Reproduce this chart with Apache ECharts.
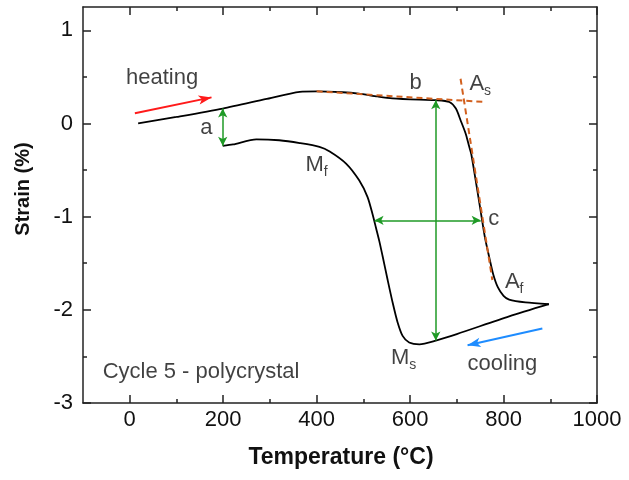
<!DOCTYPE html>
<html><head><meta charset="utf-8">
<script src="https://cdn.jsdelivr.net/npm/echarts@6/dist/echarts.min.js"></script>
<style>html,body{margin:0;padding:0;background:#fff}#c{width:629px;height:480px}</style>
</head><body><div id="c"></div>
<script>
// ---- data ----
const heatingT = [18,100,199,290,364,400,455,490,530,562,620,656,684,698,708,719,726,731,740,751,760,770,778,788,800,812,847,897];
const heatingS = [0,0.07,0.16,0.26,0.34,0.345,0.335,0.32,0.29,0.27,0.255,0.25,0.23,0.16,0.035,-0.11,-0.24,-0.33,-0.6,-0.94,-1.22,-1.45,-1.62,-1.76,-1.85,-1.89,-1.92,-1.94];
const coolingT = [897,812,700,655,620,598,584,573,563,552,541,534,527,520,509,491,463,428,406,364,320,271,221,199];
const coolingS = [-1.94,-2.07,-2.26,-2.33,-2.37,-2.35,-2.28,-2.13,-1.93,-1.68,-1.42,-1.26,-1.12,-0.98,-0.79,-0.61,-0.43,-0.30,-0.25,-0.21,-0.18,-0.17,-0.225,-0.24];
const plateauTangentT = [400,761];
const plateauTangentS = [0.345,0.23];
const steepTangentT = [708,776];
const steepTangentS = [0.48,-1.68];
const greenArrowsFrom = [[199,-0.24],[655,0.25],[524,-1.04]];
const greenArrowsTo   = [[199,0.16],[655,-2.33],[751,-1.04]];
const redArrow = [[11,0.11],[175,0.28]];
const blueArrow = [[883,-2.2],[723,-2.38]];
const labelTexts = ['heating','a','b','A_s','M_f','c','A_f','M_s','cooling','Cycle 5 - polycrystal'];
const labelT = [-8,151,599,727,376,767,803,559,723,-58];
const labelS = [0.49,-0.05,0.43,0.42,-0.45,-1.02,-1.70,-2.52,-2.58,-2.665];
const xMajor = [0,200,400,600,800,1000];
const xMinor = [100,300,500,700,900];
const yMajor = [-3,-2,-1,0,1];
const yMinor = [-2.5,-1.5,-0.5,0.5];

// ---- chart ----
const FONT = '"Liberation Sans", Arial, sans-serif';
const AX = '#222';
const pairs = (a,b) => a.map((v,i)=>[v,b[i]]);
function richText(t){ const p=t.split('_'); return p.length>1 ? '{m|'+p[0]+'}{s|'+p[1]+'}' : '{m|'+t+'}'; }

function mkAxis(kind, pos, vals, major, withLabel, line){
  const base = kind==='x' ? {min:-100,max:1000,interval:100} : {min:-3,max:1.25,interval:0.5};
  return Object.assign({type:'value', position:pos, splitLine:{show:false}, minorTick:{show:false},
    axisLine:{show:line, onZero:false, lineStyle:{color:AX,width:1.5}},
    axisTick:{show:true, inside:true, length: major?8:4, customValues:vals, lineStyle:{color:AX,width:1.5}},
    axisLabel:{show:withLabel, customValues:vals, formatter:v=>String(v), margin: kind==='x'?6:10, fontSize:22, color:'#111', fontFamily:FONT}
  }, base);
}

const chart = echarts.init(document.getElementById('c'));
const arrowSeries = (from,to,color,width,sym,size) => ({
  type:'line', data:[], silent:true,
  markLine:{silent:true, animation:false, symbol:sym, symbolSize:size, label:{show:false},
    lineStyle:{color:color,width:width,type:'solid'},
    emphasis:{disabled:true},
    data: from.map((f,i)=>[{coord:f},{coord:to[i]}])}
});

chart.setOption({
  animation:false,
  backgroundColor:'#fff',
  grid:{left:83,right:32,top:7,bottom:77,containLabel:false},
  xAxis:[mkAxis('x','bottom',xMajor,true,true,true), mkAxis('x','bottom',xMinor,false,false,false),
         mkAxis('x','top',xMajor,true,false,true), mkAxis('x','top',xMinor,false,false,false)],
  yAxis:[mkAxis('y','left',yMajor,true,true,true), mkAxis('y','left',yMinor,false,false,false),
         mkAxis('y','right',yMajor,true,false,true), mkAxis('y','right',yMinor,false,false,false)],
  series:[
    {type:'line', data:pairs(heatingT,heatingS), showSymbol:false, smooth:0.25, lineStyle:{color:'#000',width:1.8}},
    {type:'line', data:pairs(coolingT,coolingS), showSymbol:false, smooth:0.25, lineStyle:{color:'#000',width:1.8}},
    {type:'line', data:pairs(plateauTangentT,plateauTangentS), showSymbol:false, lineStyle:{color:'#d2601e',width:2,type:[6,4]}},
    {type:'line', data:pairs(steepTangentT,steepTangentS), showSymbol:false, lineStyle:{color:'#d2601e',width:2,type:[6,4]}},
    arrowSeries(greenArrowsFrom, greenArrowsTo, '#1f9a26', 1.5, ['arrow','arrow'], [7,9]),
    arrowSeries([redArrow[0]],[redArrow[1]], '#ff1a1a', 2, ['none','arrow'], [7,13]),
    arrowSeries([blueArrow[0]],[blueArrow[1]], '#1e8cff', 2, ['none','arrow'], [7,13]),
    {type:'scatter', symbolSize:0, silent:true,
     data: labelT.map((t,i)=>({value:[t,labelS[i]], name:labelTexts[i]})),
     label:{show:true, position:[0,0], align:'left', verticalAlign:'middle',
       formatter:p=>richText(p.name),
       rich:{m:{fontSize:22,lineHeight:22,fontFamily:FONT,color:'#111',verticalAlign:'top'},
             s:{fontSize:14,lineHeight:14,fontFamily:FONT,color:'#111',verticalAlign:'top',padding:[11,0,0,0]}}}}
  ],
  graphic:[
    {type:'text', x:341, y:458, silent:true, style:{text:'Temperature (°C)', font:'bold 23px "Liberation Sans", Arial', fill:'#111', align:'center', verticalAlign:'middle', textAlign:'center', textVerticalAlign:'middle'}},
    {type:'text', x:23, y:189, rotation:Math.PI/2, silent:true, style:{text:'Strain (%)', font:'bold 20px "Liberation Sans", Arial', fill:'#111', align:'center', verticalAlign:'middle', textAlign:'center', textVerticalAlign:'middle'}}
  ]
});
</script>
</body></html>
